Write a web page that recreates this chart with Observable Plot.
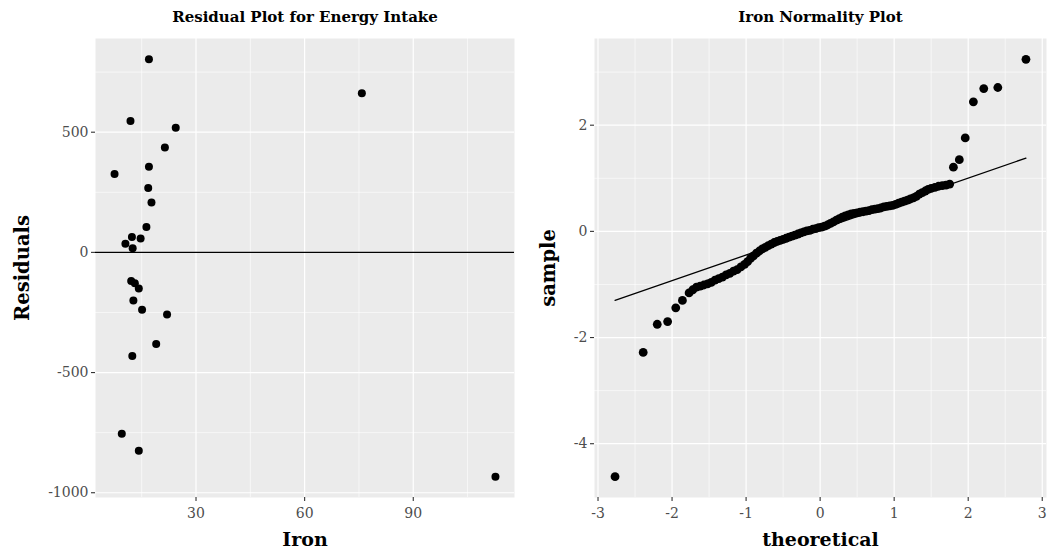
<!DOCTYPE html>
<html>
<head>
<meta charset="utf-8">
<script src="https://cdn.jsdelivr.net/npm/d3@7"></script>
<script src="https://cdn.jsdelivr.net/npm/@observablehq/plot@0.6"></script>
<style>
  body { margin: 0; background: #ffffff; }
  #wrap { position: relative; width: 1055px; height: 555px; overflow: hidden; }
  #left, #right { position: absolute; top: 0; }
  #left { left: 0; }
  #right { left: 527px; }
</style>
</head>
<body>
<div id="wrap"><div id="left"></div><div id="right"></div></div>
<script>
// ---- Left panel: residuals vs iron ----
const iron = [17.0, 11.9, 24.4, 21.4, 17.0, 7.5, 16.8, 17.7, 16.3, 12.3, 14.7, 10.5, 12.5,
              12.1, 13.1, 14.2, 12.7, 15.1, 22.0, 19.0, 12.4, 9.5, 14.2, 75.8, 112.7];
const residuals = [803, 547, 518, 436, 356, 326, 268, 208, 106, 64, 58, 36, 17,
                   -119, -128, -150, -200, -239, -258, -381, -431, -755, -825, 662, -933];
const leftXTicks = [30, 60, 90];
const leftXMinor = [15, 45, 75, 105];
const leftYTicks = [-1000, -500, 0, 500];
const leftYMinor = [-750, -250, 250, 750];

// ---- Right panel: normal QQ plot of iron ----
const qqTheoretical = [-2.77, -2.39, -2.20, -2.06, -1.95, -1.86,
  -1.77, -1.72, -1.67, -1.62, -1.57, -1.52, -1.47, -1.42, -1.37, -1.32, -1.27, -1.22, -1.17, -1.12,
  -1.07, -1.02, -0.98, -0.94, -0.90, -0.86, -0.82, -0.78, -0.74, -0.70, -0.66, -0.62, -0.58, -0.54,
  -0.50, -0.46, -0.42, -0.38, -0.34, -0.30, -0.26, -0.22, -0.18, -0.14, -0.10, -0.06, -0.02,
  0.02, 0.06, 0.10, 0.14, 0.18, 0.22, 0.26, 0.30, 0.34, 0.38, 0.42, 0.46, 0.50, 0.54, 0.58, 0.62,
  0.66, 0.70, 0.74, 0.78, 0.82, 0.86, 0.90, 0.94, 0.98, 1.02, 1.06, 1.10, 1.14, 1.18, 1.22, 1.26,
  1.30, 1.34, 1.38, 1.42, 1.46, 1.50, 1.55, 1.60, 1.65, 1.70, 1.75,
  1.80, 1.88, 1.96, 2.07, 2.21, 2.40, 2.78];
const qqSample = [-4.62, -2.28, -1.75, -1.70, -1.44, -1.30,
  -1.16, -1.10, -1.05, -1.03, -1.01, -0.99, -0.96, -0.92, -0.89, -0.86, -0.82, -0.79, -0.75, -0.72,
  -0.67, -0.62, -0.57, -0.51, -0.46, -0.41, -0.37, -0.33, -0.30, -0.27, -0.24, -0.21, -0.19, -0.17,
  -0.15, -0.13, -0.11, -0.09, -0.07, -0.05, -0.03, -0.01, 0.01, 0.02, 0.04, 0.05, 0.07,
  0.08, 0.10, 0.12, 0.15, 0.18, 0.21, 0.24, 0.27, 0.29, 0.31, 0.33, 0.34, 0.35, 0.36, 0.37, 0.38,
  0.39, 0.41, 0.42, 0.43, 0.44, 0.46, 0.47, 0.48, 0.49, 0.51, 0.53, 0.55, 0.57, 0.59, 0.61, 0.63,
  0.66, 0.70, 0.73, 0.76, 0.79, 0.81, 0.83, 0.85, 0.86, 0.87, 0.89,
  1.21, 1.35, 1.76, 2.44, 2.69, 2.71, 3.24];
const qqLineX = [-2.77, 2.78];
const qqLineY = [-1.30, 1.38];
const rightXTicks = [-3, -2, -1, 0, 1, 2, 3];
const rightXMinor = [-2.5, -1.5, -0.5, 0.5, 1.5, 2.5];
const rightYTicks = [-4, -2, 0, 2];
const rightYMinor = [-3, -1, 1, 3];

// ggplot-like 5% expansion of a continuous range
function expand(vals) {
  const [a, b] = d3.extent(vals);
  const p = (b - a) * 0.05;
  return [a - p, b + p];
}

const FONT = "DejaVu Serif";
const PANEL = "#ebebeb";
const fmt = d => String(d); // plain hyphen-minus, as in the reference

function gridMarks(xMinor, xMajor, yMinor, yMajor) {
  return [
    Plot.frame({fill: PANEL, stroke: "none"}),
    Plot.ruleX(xMinor, {stroke: "white", strokeWidth: 0.6}),
    Plot.ruleY(yMinor, {stroke: "white", strokeWidth: 0.6}),
    Plot.ruleX(xMajor, {stroke: "white", strokeWidth: 1.2}),
    Plot.ruleY(yMajor, {stroke: "white", strokeWidth: 1.2})
  ];
}

function axes(xTicks, yTicks) {
  return [
    Plot.axisX(xTicks, {tickSize: 4, tickPadding: 7, stroke: "#333333", strokeWidth: 1.1,
                        fill: "#4d4d4d", fontSize: 14, label: null, tickFormat: fmt}),
    Plot.axisY(yTicks, {tickSize: 4, tickPadding: 3, stroke: "#333333", strokeWidth: 1.1,
                        fill: "#4d4d4d", fontSize: 14, label: null, tickFormat: fmt})
  ];
}

const leftData = iron.map((v, i) => ({iron: v, resid: residuals[i]}));

const left = Plot.plot({
  width: 527, height: 555,
  marginLeft: 95, marginRight: 13, marginTop: 38, marginBottom: 58,
  style: {fontFamily: FONT, background: "white", color: "#4d4d4d"},
  x: {domain: expand(iron)},
  y: {domain: expand(residuals)},
  marks: [
    ...gridMarks(leftXMinor, leftXTicks, leftYMinor, leftYTicks),
    Plot.ruleY([0], {stroke: "black", strokeWidth: 1.3}),
    Plot.dot(leftData, {x: "iron", y: "resid", r: 4, fill: "black", stroke: "none"}),
    ...axes(leftXTicks, leftYTicks),
    Plot.text(["Residual Plot for Energy Intake"], {frameAnchor: "top", dy: -21, lineAnchor: "middle",
      fontWeight: "bold", fontSize: 15, fill: "black"}),
    Plot.text(["Iron"], {frameAnchor: "bottom", dy: 42, lineAnchor: "middle",
      fontWeight: "bold", fontSize: 19, fill: "black"}),
    Plot.text(["Residuals"], {frameAnchor: "left", dx: -73, rotate: -90, lineAnchor: "middle",
      textAnchor: "middle", fontWeight: "bold", fontSize: 19.5, fill: "black"})
  ]
});
document.getElementById("left").appendChild(left);

const qqData = qqTheoretical.map((t, i) => ({t, s: qqSample[i]}));
const qqLine = qqLineX.map((t, i) => ({t, s: qqLineY[i]}));

const right = Plot.plot({
  width: 528, height: 555,
  marginLeft: 67, marginRight: 9, marginTop: 38, marginBottom: 58,
  style: {fontFamily: FONT, background: "white", color: "#4d4d4d"},
  x: {domain: expand(qqTheoretical)},
  y: {domain: expand(qqSample)},
  marks: [
    ...gridMarks(rightXMinor, rightXTicks, rightYMinor, rightYTicks),
    Plot.line(qqLine, {x: "t", y: "s", stroke: "black", strokeWidth: 1.3}),
    Plot.dot(qqData, {x: "t", y: "s", r: 4.4, fill: "black", stroke: "none"}),
    ...axes(rightXTicks, rightYTicks),
    Plot.text(["Iron Normality Plot"], {frameAnchor: "top", dy: -21, lineAnchor: "middle",
      fontWeight: "bold", fontSize: 15, fill: "black"}),
    Plot.text(["theoretical"], {frameAnchor: "bottom", dy: 42, lineAnchor: "middle",
      fontWeight: "bold", fontSize: 19, fill: "black"}),
    Plot.text(["sample"], {frameAnchor: "left", dx: -46, rotate: -90, lineAnchor: "middle",
      textAnchor: "middle", fontWeight: "bold", fontSize: 19.5, fill: "black"})
  ]
});
document.getElementById("right").appendChild(right);
</script>
</body>
</html>
